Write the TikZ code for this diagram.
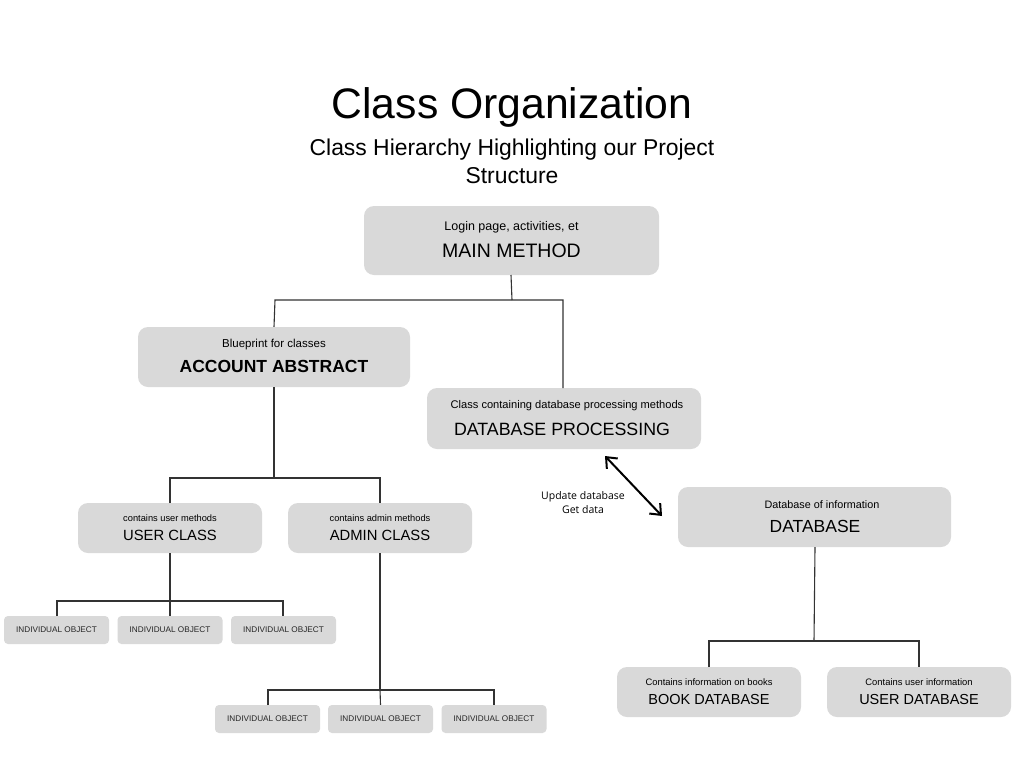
\documentclass[tikz,border=0pt]{standalone}
\usepackage{fontspec}
\setmainfont{Liberation Sans}
\newfontfamily\labelfont{Open Sans}
\usetikzlibrary{arrows.meta}
\definecolor{boxgray}{HTML}{D9D9D9}
\definecolor{linegray}{HTML}{333333}
\tikzset{
  box/.style={fill=boxgray, draw=none, rounded corners=10pt, inner sep=0pt},
  txt/.style={inner sep=0pt, anchor=center, text=black},
  conn/.style={draw=linegray, line width=1.1pt},
  fs/.style={font=\fontsize{#1}{#1}\selectfont}
}
\begin{document}
\begin{tikzpicture}[x=1pt,y=-1pt]
\useasboundingbox (0,0) rectangle (1024,768);
\fill[white] (0,0) rectangle (1024,768);

% titles
\node[txt, anchor=base, fs=42.7] (title) at (512,118) {Class Organization};
\node[txt, anchor=base, fs=22.9] (sub1) at (512,155.5) {Class Hierarchy Highlighting our Project};
\node[txt, anchor=base, fs=22.9] (sub2) at (512,183) {Structure};

% main
\node[box, minimum width=295pt, minimum height=69pt] (main) at (511.5,240.5) {};
\node[txt, fs=12.5] (mainS) at (511.5,227) {Login page, activities, et};
\node[txt, fs=19.5] (mainT) at (511.5,251) {MAIN METHOD};

% account abstract
\node[box, minimum width=272pt, minimum height=60pt] (acc) at (274,357) {};
\node[txt, fs=11.5] (accS) at (274,345) {Blueprint for classes};
\node[txt, fs=17.5] (accT) at (274,366) {\bfseries ACCOUNT ABSTRACT};

% database processing
\node[box, minimum width=274pt, minimum height=61pt] (dbp) at (564,418.5) {};
\node[txt, fs=11.1] (dbpS) at (567,406) {Class containing database processing methods};
\node[txt, fs=17.8] (dbpT) at (562,429) {DATABASE PROCESSING};

% database
\node[box, minimum width=273pt, minimum height=60pt] (db) at (814.5,517) {};
\node[txt, fs=10.8] (dbS) at (822,505) {Database of information};
\node[txt, fs=17.5] (dbT) at (815,526) {DATABASE};

% user / admin class
\node[box, minimum width=184pt, minimum height=50pt] (user) at (170,528) {};
\node[txt, fs=9.3] (userS) at (170,518) {contains user methods};
\node[txt, fs=14.8] (userT) at (170,535) {USER CLASS};
\node[box, minimum width=184pt, minimum height=50pt] (admin) at (380,528) {};
\node[txt, fs=9.3] (adminS) at (380,518) {contains admin methods};
\node[txt, fs=14.8] (adminT) at (380,535) {ADMIN CLASS};

% individual objects
\tikzset{obj/.style={box, rounded corners=4pt, minimum width=105pt, minimum height=28pt, font=\fontsize{8.2}{9}\selectfont, text=black!85}}
\node[obj] (u1) at (56.5,630) {INDIVIDUAL OBJECT};
\node[obj] (u2) at (170,630) {INDIVIDUAL OBJECT};
\node[obj] (u3) at (283.5,630) {INDIVIDUAL OBJECT};
\node[obj] (a1) at (267.5,719) {INDIVIDUAL OBJECT};
\node[obj] (a2) at (380.5,719) {INDIVIDUAL OBJECT};
\node[obj] (a3) at (494,719) {INDIVIDUAL OBJECT};

% book / user database
\node[box, minimum width=184pt, minimum height=50pt] (book) at (709,692) {};
\node[txt, fs=9.4] (bookS) at (709,682) {Contains information on books};
\node[txt, fs=14.5] (bookT) at (709,699) {BOOK DATABASE};
\node[box, minimum width=184pt, minimum height=50pt] (udb) at (919,692) {};
\node[txt, fs=9.4] (udbS) at (919,682) {Contains user information};
\node[txt, fs=14.5] (udbT) at (919,699) {USER DATABASE};

% connectors
\coordinate (j1) at (512,300);
\draw[conn] (511,275) -- (j1);
\draw[conn] (acc.north) -- (275,300) -- (563,300) -- (563,388);
\coordinate (j2) at (274,478);
\draw[conn] (acc.south) -- (j2);
\draw[conn] (170,503) -- (170,478) -- (380,478) -- (380,503);
\coordinate (j3) at (170,601);
\draw[conn] (user.south) -- (j3);
\draw[conn] (57,616) -- (57,601) -- (283,601) -- (283,616);
\draw[conn] (j3) -- (u2.north);
\coordinate (j4) at (380,690);
\draw[conn] (admin.south) -- (j4);
\draw[conn] (268,705) -- (268,690) -- (494,690) -- (494,705);
\draw[conn] (380,690) -- (a2.north);
\coordinate (j5) at (814,641);
\draw[conn] (815,547) -- (j5);
\draw[conn] (709,667) -- (709,641) -- (919,641) -- (919,667);

% double arrow
\coordinate (ar1) at (605,456);
\coordinate (ar2) at (662,516);
\draw[line width=2pt, {Straight Barb[length=9pt,width=15pt]}-{Straight Barb[length=9pt,width=15pt]}] (ar1) -- (ar2);
\node[txt, font=\labelfont\fontsize{10.5}{14}\selectfont, align=center] (lbl) at (583,503) {Update database\\Get data};
\end{tikzpicture}
\end{document}
